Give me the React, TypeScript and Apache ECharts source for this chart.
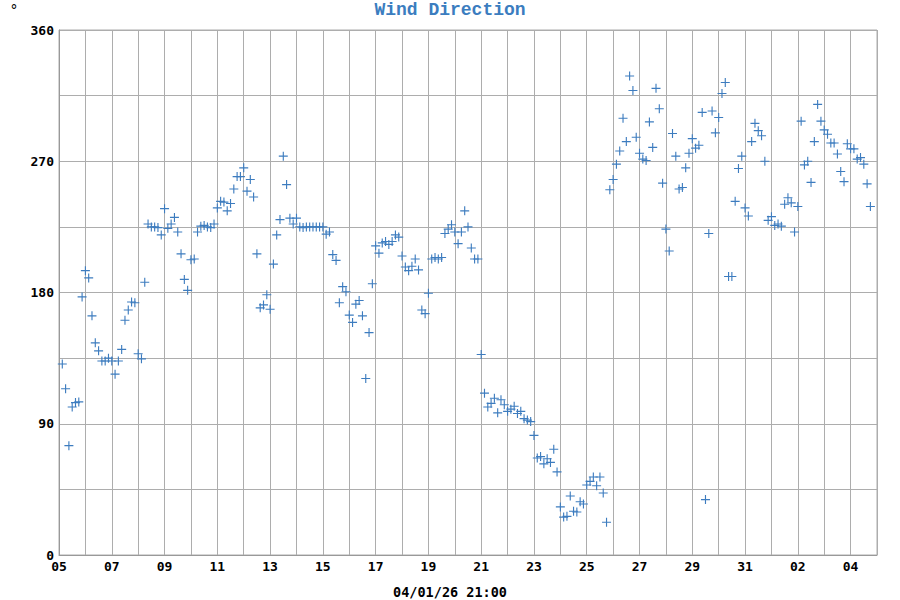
import React, { useEffect, useRef } from "react";
import * as echarts from "echarts";

// Time base: first slot is 2026-03-05 00:00, readings every 3 hours
const START_Y = 2026;
const START_M = 2; // March (0-based)
const START_D = 5;
const STEP_HOURS = 3;
const FIRST_SLOT = 1;
const DAY_SPAN = 31;
const Y_LABELS = [0, 90, 180, 270, 360];
const TITLE = "Wind Direction";
const FOOTER = "04/01/26 21:00";
const UNIT = "°";

const directions: number[] = [
  131, 114, 75, 101.5, 104.5, 105, 177, 195, 190, 164,
  145.5, 140, 133, 133, 135, 133, 124, 133, 141, 161,
  168, 173.5, 173, 138, 134.5, 187, 227, 225, 225, 224.5,
  219.5, 237.5, 224, 227, 231.5, 221.5, 206.5, 189, 181.5, 202.5,
  203, 221.5, 225.5, 226, 225, 224.5, 227, 238, 242.5, 242,
  236, 241, 251, 259.5, 259.5, 265.5, 249.5, 257.5, 245.5, 206.5,
  169.5, 171.5, 178.5, 168.5, 199.5, 219.5, 230, 273.5, 254, 231,
  227, 231, 225, 224.5, 225, 225, 225, 225, 225, 225,
  220, 221.5, 206, 202, 173, 184, 180.5, 164.5, 159.5, 172,
  174.5, 164, 121, 152.5, 186, 212, 207, 214, 215, 213,
  215, 219.5, 218, 205, 197.5, 195, 198, 203, 195.5, 168,
  165.5, 179.5, 203, 204, 203, 204, 220.5, 223.5, 226.5, 221.5,
  213.5, 221.5, 236, 225, 210.5, 203, 203, 137.5, 111, 101.5,
  104, 107.5, 97.5, 106.5, 103, 98.5, 100, 102, 97, 98.5,
  93.5, 92.5, 91.5, 82, 66.5, 67.5, 62.5, 66, 63.5, 72.5,
  57, 33, 26, 26.5, 40.5, 30, 29.5, 36.5, 35, 48,
  50.5, 53.5, 47.5, 53.5, 42.5, 22.5, 250.5, 257.5, 268, 277,
  299.5, 283.5, 328.5, 318.5, 286.5, 275.5, 271.5, 270.5, 297, 279.5,
  320, 306, 255, 223.5, 208.5, 289, 273.5, 251, 252, 265.5,
  275.5, 285.5, 279, 281, 303.5, 38, 220.5, 304.5, 289.5, 300,
  316.5, 324, 191, 191, 242.5, 265, 273.5, 238, 232.5, 283.5,
  296, 291, 287.5, 270, 229.5, 232, 226, 227, 225.5, 240.5,
  245, 241.5, 221.5, 239, 297.5, 267.5, 270, 255.5, 283.5, 309,
  297.5, 291.5, 288.5, 282.5, 282.5, 275, 263, 256, 282, 278.5,
  278.5, 271.5, 272.5, 268, 254.5, 239,
];

const PLUS = "path://M3.5,0h1v3.5h3.5v1h-3.5v3.5h-1v-3.5h-3.5v-1h3.5z";

function dayLabel(offset: number): string {
  const d = new Date(Date.UTC(START_Y, START_M, START_D + offset));
  return String(d.getUTCDate()).padStart(2, "0");
}

export default function App() {
  const ref = useRef<HTMLDivElement>(null);
  useEffect(() => {
    if (!ref.current) return;
    const chart = echarts.init(ref.current, null, { renderer: "svg" });
    const data = directions.map((v, i) => [((FIRST_SLOT + i) * STEP_HOURS) / 24, v]);
    const grid = "#adadad";
    chart.setOption({
      animation: false,
      backgroundColor: "#ffffff",
      grid: {
        left: 59,
        right: 23,
        top: 30,
        bottom: 45,
        show: true,
        borderColor: grid,
        borderWidth: 1,
      },
      graphic: [
        {
          type: "text",
          x: 450,
          y: 10,
          style: {
            text: TITLE,
            fill: "#3b7dbf",
            font: "bold 18px 'Liberation Mono', monospace",
            textAlign: "center",
            textVerticalAlign: "middle",
          },
        },
        {
          type: "text",
          x: 14,
          y: 10,
          style: {
            text: UNIT,
            fill: "#000",
            font: "14px 'DejaVu Sans Mono', monospace",
            textAlign: "center",
            textVerticalAlign: "middle",
          },
        },
        {
          type: "text",
          x: 450,
          y: 592,
          style: {
            text: FOOTER,
            fill: "#000",
            font: "bold 13.5px 'DejaVu Sans Mono', monospace",
            textAlign: "center",
            textVerticalAlign: "middle",
          },
        },
      ],
      xAxis: {
        type: "value",
        min: 0,
        max: DAY_SPAN,
        interval: 1,
        axisLine: { show: true, lineStyle: { color: "#999" } },
        axisTick: { show: false },
        splitLine: { show: true, lineStyle: { color: grid, width: 1 } },
        axisLabel: {
          margin: 5,
          color: "#000",
          fontFamily: "'DejaVu Sans Mono', monospace",
          fontWeight: "bold",
          fontSize: 13,
          lineHeight: 12,
          formatter: (v: number) => (v % 2 === 0 && v < DAY_SPAN ? dayLabel(v) : ""),
        },
      },
      yAxis: {
        type: "value",
        min: 0,
        max: 360,
        interval: 45,
        axisLine: { show: true, lineStyle: { color: "#999" } },
        axisTick: { show: false },
        splitLine: { show: true, lineStyle: { color: grid, width: 1 } },
        axisLabel: {
          margin: 5,
          color: "#000",
          fontFamily: "'DejaVu Sans Mono', monospace",
          fontWeight: "bold",
          fontSize: 13,
          lineHeight: 9,
          formatter: (v: number) => (Y_LABELS.includes(v) ? String(v) : ""),
        },
      },
      series: [
        {
          type: "scatter",
          data,
          symbol: PLUS,
          symbolSize: 9,
          itemStyle: { color: "#3d7cbf", opacity: 1 },
        },
      ],
    });
    return () => chart.dispose();
  }, []);
  return <div ref={ref} style={{ width: 900, height: 600, position: "fixed", left: 0, top: 0 }} />;
}
